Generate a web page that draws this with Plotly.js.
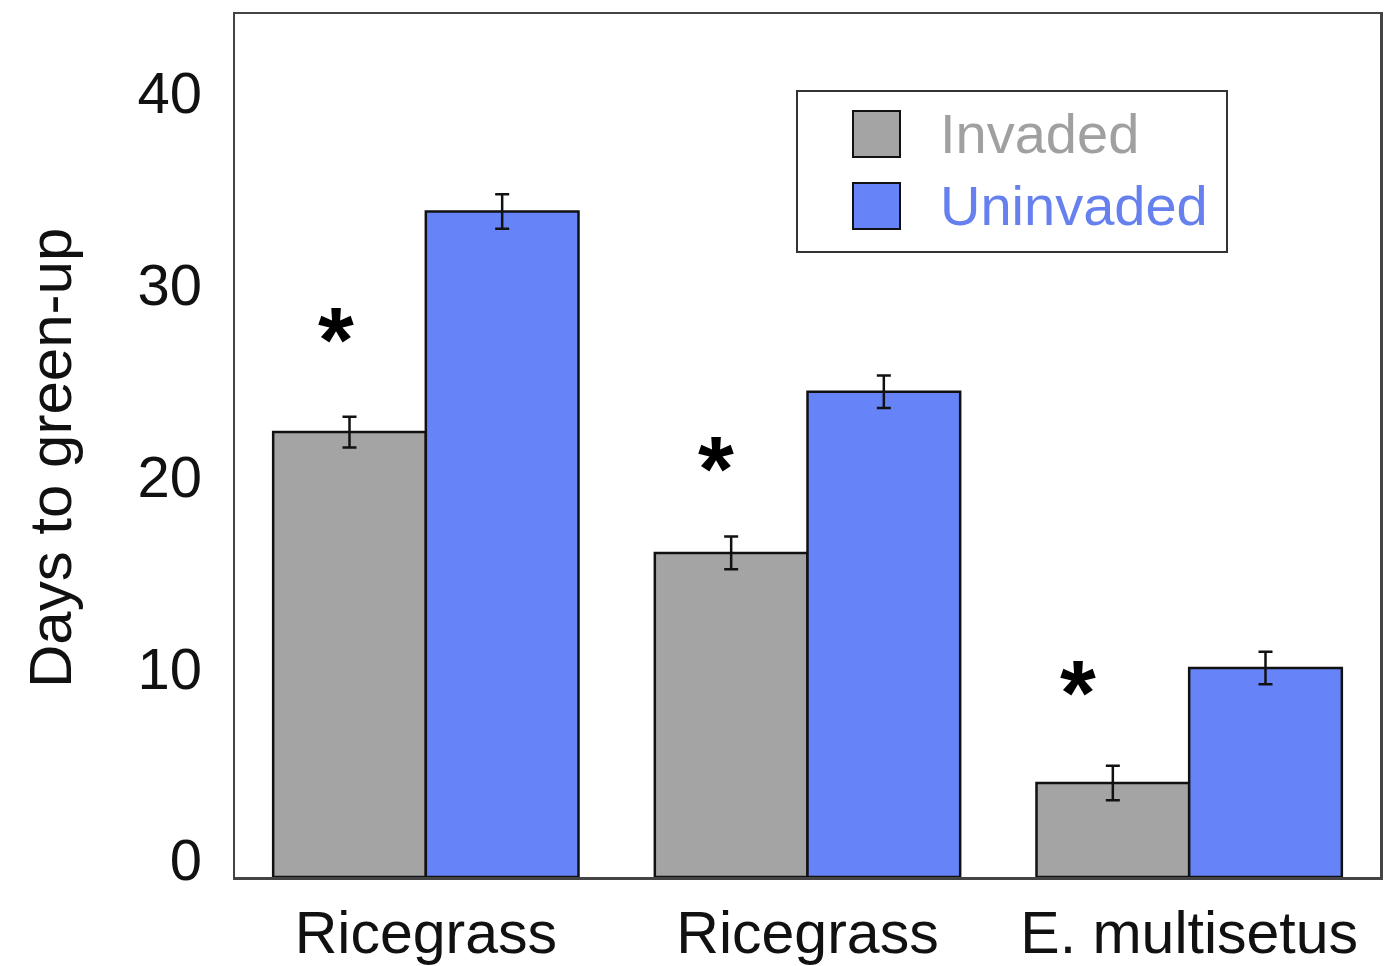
<!DOCTYPE html>
<html>
<head>
<meta charset="utf-8">
<script src="https://cdn.plot.ly/plotly-3.0.1.min.js"></script>
<style>
  html, body { margin: 0; padding: 0; background: #ffffff; }
  #chart { width: 1400px; height: 966px; }
</style>
</head>
<body>
<div id="chart"></div>
<script>
// Species groups along the x axis
const categories = ['Ricegrass', 'Ricegrass', 'E. multisetus'];

// Mean days to green-up and standard errors
const seriesNames = ['Invaded', 'Uninvaded'];
const invadedDays = [23.2, 16.9, 4.9];
const invadedErr = [0.8, 0.85, 0.9];
const uninvadedDays = [34.7, 25.3, 10.9];
const uninvadedErr = [0.9, 0.85, 0.85];

// Significance markers over each invaded bar
const sigLabels = ['*', '*', '*'];
const sigHeights = [28.0, 21.3, 9.6];

const yTicks = [0, 10, 20, 30, 40];

const colors = ['#a4a4a4', '#6684f8'];
const legendText = ['#a0a0a0', '#6680ee'];
const FONT = 'Liberation Sans, Arial, Helvetica, sans-serif';

const xIdx = categories.map((_, i) => i);

const errStyle = { type: 'data', visible: true, color: '#111111', thickness: 2.5, width: 7 };
const traces = [
  {
    type: 'bar', name: seriesNames[0], x: xIdx, y: invadedDays,
    marker: { color: colors[0], line: { color: '#111111', width: 2.5 } },
    error_y: Object.assign({ array: invadedErr }, errStyle),
    hoverinfo: 'skip'
  },
  {
    type: 'bar', name: seriesNames[1], x: xIdx, y: uninvadedDays,
    marker: { color: colors[1], line: { color: '#111111', width: 2.5 } },
    error_y: Object.assign({ array: uninvadedErr }, errStyle),
    hoverinfo: 'skip'
  }
];

// Plot area in pixels, used to place the hand-drawn legend
const L = 235, R = 1380, T = 14, B = 877;
const px = v => (v - L) / (R - L);
const py = v => (B - v) / (B - T);

const shapes = [
  { type: 'rect', xref: 'paper', yref: 'paper', x0: px(797), x1: px(1227), y0: py(252), y1: py(91),
    line: { color: '#333333', width: 2 }, fillcolor: 'rgba(255,255,255,1)', layer: 'above' }
];
const annotations = [];
const rowCenters = [134, 206];
seriesNames.forEach((name, i) => {
  const c = rowCenters[i];
  shapes.push({ type: 'rect', xref: 'paper', yref: 'paper', x0: px(853), x1: px(900), y0: py(c + 23), y1: py(c - 23),
    line: { color: '#111111', width: 2 }, fillcolor: colors[i], layer: 'above' });
  annotations.push({ xref: 'paper', yref: 'paper', x: px(938), y: py(c), xanchor: 'left', yanchor: 'middle',
    text: name, showarrow: false, font: { family: FONT, size: 56, color: legendText[i] } });
});

// Asterisks sit a little left of each invaded bar's centre
const sigOffsets = [-0.235, -0.24, -0.29];
sigLabels.forEach((s, i) => {
  annotations.push({ xref: 'x', yref: 'y', x: xIdx[i] + sigOffsets[i], y: sigHeights[i], text: s, showarrow: false,
    xanchor: 'center', yanchor: 'middle', font: { family: FONT, size: 92, color: '#000000', weight: 'bold' } });
});

annotations.push({ xref: 'paper', yref: 'paper', x: px(50), y: py(458), text: 'Days to green-up', textangle: -90,
  showarrow: false, xanchor: 'center', yanchor: 'middle', font: { family: FONT, size: 60, color: '#111111' } });

const layout = {
  width: 1400, height: 966,
  margin: { l: L, r: 1400 - R, t: T, b: 966 - B, pad: 0 },
  paper_bgcolor: '#ffffff', plot_bgcolor: '#ffffff',
  barmode: 'group', bargap: 0.2, bargroupgap: 0,
  showlegend: false,
  font: { family: FONT, color: '#111111' },
  xaxis: {
    range: [-0.5, 2.5], tickvals: xIdx, ticktext: categories, ticks: '',
    showgrid: false, zeroline: false, showline: true, mirror: true, linecolor: '#444444', linewidth: 2.5,
    tickfont: { family: FONT, size: 59, color: '#111111' }, ticklabelstandoff: 3, fixedrange: true
  },
  yaxis: {
    range: [0, 45], tickvals: yTicks, ticks: '',
    showgrid: false, zeroline: false, showline: true, mirror: true, linecolor: '#444444', linewidth: 2.5,
    tickfont: { family: FONT, size: 58, color: '#111111' }, ticklabelstandoff: 19, ticklabelshift: -17, fixedrange: true
  },
  shapes: shapes,
  annotations: annotations
};

Plotly.newPlot('chart', traces, layout, { displayModeBar: false, staticPlot: true });
</script>
</body>
</html>
